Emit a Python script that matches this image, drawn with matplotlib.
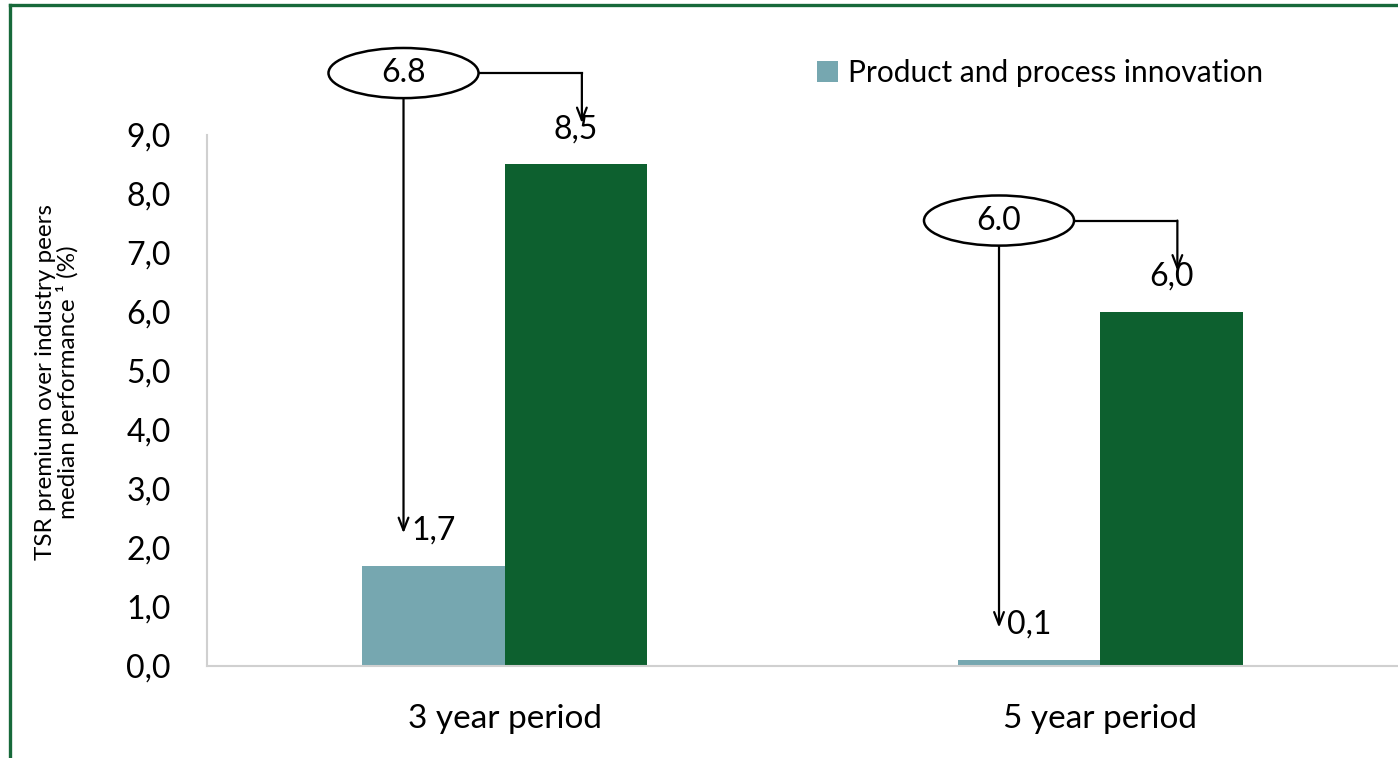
import matplotlib
matplotlib.use("Agg")
import matplotlib.pyplot as plt
from matplotlib.patches import Ellipse
from matplotlib.lines import Line2D
import numpy as np

plt.rcParams['font.family'] = ['Lato', 'DejaVu Sans']

categories = ['3 year period', '5 year period']
innovation = [1.7, 0.1]          # Product and process innovation
other = [8.5, 6.0]               # second (unlabelled) series
callouts = [6.8, 6.0]            # circled values
yticks = [0.0, 1.0, 2.0, 3.0, 4.0, 5.0, 6.0, 7.0, 8.0, 9.0]
legend_label = 'Product and process innovation'
ylabel = 'TSR premium over industry peers\nmedian performance \u00b9 (%)'

light = '#76A7B0'
dark = '#0D602F'
border = '#17693A'

W, H = 1398, 758
fig = plt.figure(figsize=(W / 100, H / 100), dpi=100)
ax = fig.add_axes([207 / W, 1 - 666 / H, 1 - 207 / W, (666 - 135) / H])

x = np.arange(len(categories))
bw = 0.239
b1 = ax.bar(x - bw / 2, innovation, bw, color=light, label=legend_label)
b2 = ax.bar(x + bw / 2, other, bw, color=dark)

ax.set_xlim(-0.5, len(categories) - 0.5)
ax.set_ylim(0, 9)
ax.set_yticks(yticks)
ax.set_yticklabels([f'{v:.1f}'.replace('.', ',') for v in yticks], fontsize=23)
ax.set_xticks(x)
ax.set_xticklabels(categories, fontsize=24)
ax.tick_params(axis='y', length=0, pad=26)
ax.tick_params(axis='x', length=0, pad=27)
for s in ['top', 'right']:
    ax.spines[s].set_visible(False)
for s in ['left', 'bottom']:
    ax.spines[s].set_color('#d0d0d0')
    ax.spines[s].set_linewidth(1.5)

# value labels
lab_off = 0.6
for xi, v in zip(x - bw / 2, innovation):
    ax.text(xi, v + lab_off, f'{v:.1f}'.replace('.', ','), ha='center', va='center', fontsize=23)
for xi, v in zip(x + bw / 2, other):
    ax.text(xi, v + lab_off, f'{v:.1f}'.replace('.', ','), ha='center', va='center', fontsize=23)

# callouts
ew, eh = 0.252, 0.85
for i, c in enumerate(callouts):
    xe = x[i] - 0.17
    ye = other[i] + 1.55
    ell = Ellipse((xe, ye), ew, eh, facecolor='white', edgecolor='black', lw=1.8, clip_on=False, zorder=5)
    ax.add_patch(ell)
    ax.text(xe, ye, f'{c:.1f}', ha='center', va='center', fontsize=23, zorder=6)
    # down arrow to light bar label
    ax.annotate('', xy=(xe, innovation[i] + 0.55), xytext=(xe, ye - eh / 2),
                arrowprops=dict(arrowstyle='->,head_length=0.9,head_width=0.35', lw=1.6, color='black',
                                shrinkA=0, shrinkB=0), annotation_clip=False)
    # right elbow arrow to dark bar label
    xr = x[i] + bw / 2 + 0.01
    ax.add_line(Line2D([xe + ew / 2, xr], [ye, ye], color='black', lw=1.6, clip_on=False))
    ax.annotate('', xy=(xr, other[i] + 0.7), xytext=(xr, ye),
                arrowprops=dict(arrowstyle='->,head_length=0.9,head_width=0.35', lw=1.6, color='black',
                                shrinkA=0, shrinkB=0), annotation_clip=False)

# legend
fig.legend(handles=[b1], labels=[legend_label], loc='center left',
           bbox_to_anchor=(790 / W, 1 - 73 / H), frameon=False, fontsize=21.5,
           handlelength=0.7, handleheight=0.7, handletextpad=0.35)

# y label
fig.text(57 / W, 1 - 382 / H, ylabel, rotation=90, ha='center', va='center',
         fontsize=17.5, linespacing=1.0)

# green frame (left and top)
fig.add_artist(Line2D([9.5 / W, 9.5 / W], [0, 1 - 5 / H], color=border, lw=2.4))
fig.add_artist(Line2D([9.5 / W, 1], [1 - 5 / H, 1 - 5 / H], color=border, lw=2.4))

fig.savefig('out.png', dpi=100)
